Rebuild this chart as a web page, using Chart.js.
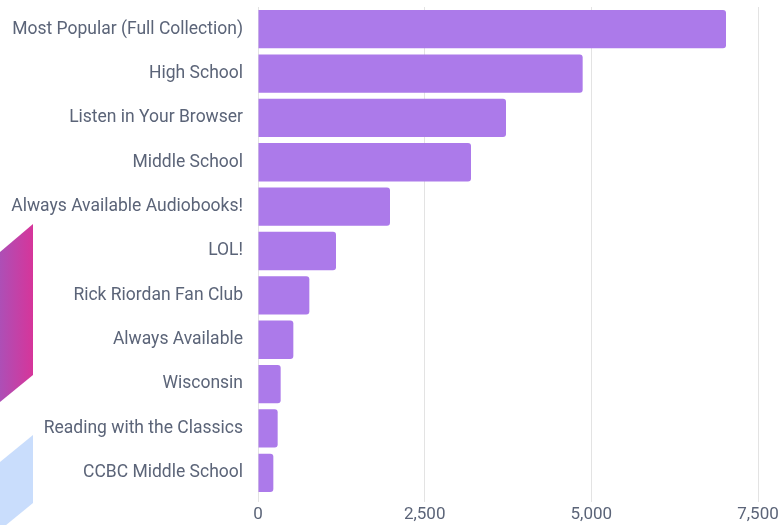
<!DOCTYPE html>
<html>
<head>
<meta charset="utf-8">
<script src="https://cdn.jsdelivr.net/npm/chart.js@4"></script>
<style>
  html, body { margin: 0; padding: 0; background: #fff; }
  #wrap { position: relative; width: 782px; height: 525px; overflow: hidden; }
  #deco { position: absolute; left: 0; top: 0; }
  #c { position: absolute; left: 0; top: 0; }
</style>
</head>
<body>
<div id="wrap">
  <svg id="deco" width="782" height="525">
    <defs>
      <linearGradient id="mg" x1="0" y1="0" x2="1" y2="0">
        <stop offset="0" stop-color="#ad4fb6"/>
        <stop offset="1" stop-color="#d6359a"/>
      </linearGradient>
    </defs>
    <polygon points="0,252 33,224 33,375 0,402" fill="url(#mg)"/>
    <polygon points="0,462 33,435 33,503 0,530" fill="#c9ddfc"/>
  </svg>
  <canvas id="c" width="782" height="525"></canvas>
</div>
<script>
const categories = [
  "Most Popular (Full Collection)",
  "High School",
  "Listen in Your Browser",
  "Middle School",
  "Always Available Audiobooks!",
  "LOL!",
  "Rick Riordan Fan Club",
  "Always Available",
  "Wisconsin",
  "Reading with the Classics",
  "CCBC Middle School"
];
const values = [7020, 4870, 3720, 3195, 1980, 1170, 770, 530, 340, 295, 230];
const xTicks = [0, 2500, 5000, 7500];

const textColor = "#5b6478";
const font = { family: "Roboto", size: 17.5 };

new Chart(document.getElementById("c"), {
  type: "bar",
  data: {
    labels: categories,
    datasets: [{
      data: values,
      backgroundColor: "rgb(172,122,234)",
      borderWidth: 0,
      borderRadius: { topRight: 3, bottomRight: 3 },
      borderSkipped: "left",
      barPercentage: 0.96,
      categoryPercentage: 0.9
    }]
  },
  options: {
    indexAxis: "y",
    responsive: false,
    animation: false,
    devicePixelRatio: 1,
    layout: { padding: { top: 7, right: 24, bottom: 0, left: 0 } },
    plugins: { legend: { display: false }, tooltip: { enabled: false } },
    scales: {
      x: {
        min: 0,
        max: 7500,
        afterBuildTicks: (s) => { s.ticks = xTicks.map(v => ({ value: v })); },
        afterFit: (s) => { s.height = 30; },
        ticks: {
          color: textColor,
          font: { family: "Roboto", size: 17 },
          padding: 3,
          maxRotation: 0,
          callback: (v) => Number(v).toLocaleString("en-US")
        },
        grid: { color: "#e3e3e3", lineWidth: 1, tickLength: 7, drawTicks: true },
        border: { display: false }
      },
      y: {
        afterFit: (s) => { s.width = 258; s.paddingTop = 0; s.paddingBottom = 0; },
        ticks: { color: textColor, font: font, padding: 15 },
        grid: { display: false, drawTicks: false },
        border: { display: false }
      }
    }
  }
});
</script>
</body>
</html>
